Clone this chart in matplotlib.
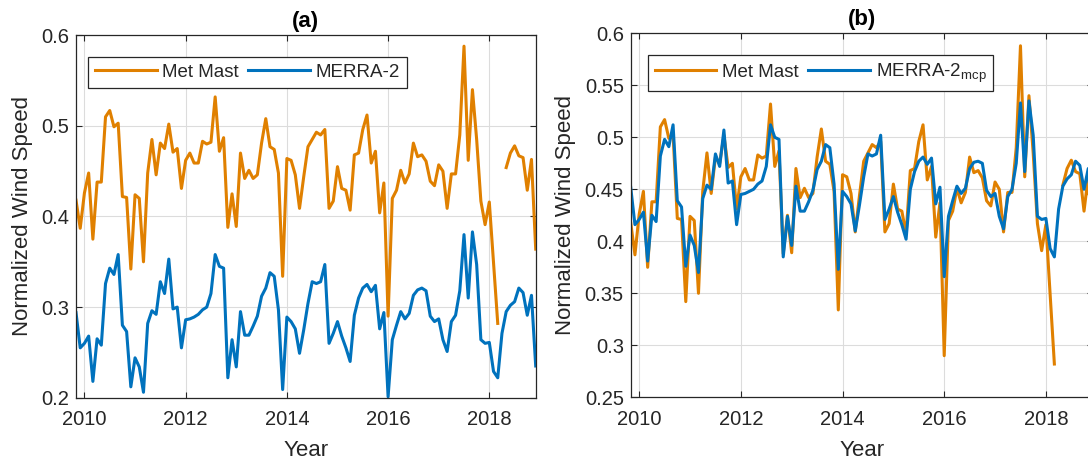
import numpy as np
import matplotlib
matplotlib.use("Agg")
import matplotlib.pyplot as plt
from matplotlib.ticker import FuncFormatter

plt.rcParams['font.family'] = ['Liberation Sans', 'DejaVu Sans']
plt.rcParams['mathtext.fontset'] = 'custom'
plt.rcParams['mathtext.rm'] = 'Liberation Sans'
plt.rcParams['mathtext.it'] = 'Liberation Sans'

# Monthly data, Nov 2009 .. Dec 2018
start_year, start_month, n_months = 2009, 11, 110

met_mast = [
    0.418, 0.387, 0.426, 0.448, 0.375, 0.438, 0.438, 0.510, 0.517, 0.499,
    0.503, 0.422, 0.421, 0.342, 0.424, 0.420, 0.350, 0.448, 0.485, 0.446,
    0.481, 0.475, 0.502, 0.471, 0.475, 0.431, 0.462, 0.470, 0.459, 0.459,
    0.483, 0.480, 0.482, 0.532, 0.472, 0.487, 0.388, 0.425, 0.389, 0.470,
    0.442, 0.451, 0.442, 0.446, 0.481, 0.508, 0.477, 0.474, 0.448, 0.334,
    0.464, 0.462, 0.446, 0.409, 0.444, 0.477, 0.485, 0.493, 0.490, 0.496,
    0.409, 0.417, 0.455, 0.431, 0.429, 0.407, 0.468, 0.470, 0.496, 0.512,
    0.459, 0.472, 0.404, 0.437, 0.290, 0.420, 0.429, 0.451, 0.437, 0.447,
    0.481, 0.466, 0.468, 0.461, 0.439, 0.434, 0.457, 0.450, 0.409, 0.447,
    0.447, 0.490, 0.588, 0.462, 0.540, 0.485, 0.417, 0.391, 0.416, 0.349,
    0.282, np.nan, 0.454, 0.470, 0.478, 0.467, 0.465, 0.429, 0.463, 0.364,
]

merra2 = [
    0.294, 0.255, 0.260, 0.268, 0.218, 0.265, 0.258, 0.326, 0.343, 0.336,
    0.358, 0.280, 0.273, 0.212, 0.244, 0.234, 0.206, 0.282, 0.296, 0.292,
    0.328, 0.315, 0.353, 0.298, 0.300, 0.255, 0.286, 0.287, 0.289, 0.292,
    0.297, 0.300, 0.315, 0.358, 0.345, 0.343, 0.222, 0.264, 0.234, 0.295,
    0.269, 0.269, 0.279, 0.290, 0.312, 0.321, 0.338, 0.334, 0.297, 0.209,
    0.289, 0.284, 0.276, 0.249, 0.275, 0.304, 0.328, 0.326, 0.328, 0.347,
    0.260, 0.271, 0.284, 0.268, 0.255, 0.240, 0.291, 0.310, 0.321, 0.325,
    0.317, 0.324, 0.276, 0.294, 0.201, 0.264, 0.280, 0.295, 0.287, 0.293,
    0.313, 0.319, 0.321, 0.318, 0.290, 0.284, 0.287, 0.264, 0.251, 0.284,
    0.291, 0.318, 0.380, 0.310, 0.383, 0.347, 0.264, 0.260, 0.261, 0.229,
    0.222, 0.271, 0.295, 0.302, 0.306, 0.321, 0.316, 0.291, 0.313, 0.235,
]

merra2_mcp = [
    0.452, 0.416, 0.421, 0.428, 0.381, 0.425, 0.419, 0.482, 0.498, 0.491,
    0.512, 0.439, 0.433, 0.376, 0.406, 0.396, 0.370, 0.441, 0.454, 0.450,
    0.484, 0.472, 0.507, 0.456, 0.458, 0.416, 0.445, 0.446, 0.448, 0.450,
    0.455, 0.458, 0.472, 0.512, 0.500, 0.498, 0.385, 0.424, 0.396, 0.453,
    0.429, 0.429, 0.438, 0.449, 0.469, 0.477, 0.493, 0.490, 0.455, 0.373,
    0.448, 0.443, 0.436, 0.410, 0.435, 0.462, 0.484, 0.482, 0.484, 0.502,
    0.421, 0.431, 0.443, 0.428, 0.416, 0.402, 0.450, 0.467, 0.477, 0.481,
    0.474, 0.480, 0.436, 0.452, 0.366, 0.424, 0.439, 0.453, 0.446, 0.451,
    0.470, 0.476, 0.477, 0.475, 0.449, 0.443, 0.446, 0.424, 0.412, 0.443,
    0.450, 0.475, 0.533, 0.467, 0.535, 0.502, 0.424, 0.421, 0.422, 0.393,
    0.385, 0.431, 0.453, 0.460, 0.464, 0.477, 0.473, 0.450, 0.470, 0.397,
]

x_ticks = [2010, 2012, 2014, 2016, 2018]
y_ticks_a = [0.2, 0.3, 0.4, 0.5, 0.6]
y_ticks_b = [0.25, 0.3, 0.35, 0.4, 0.45, 0.5, 0.55, 0.6]

months = np.arange(n_months)
t = start_year + (start_month - 1 + months) / 12.0

ORANGE = '#E08000'
BLUE = '#0072BD'
DARK = '#262626'

fig = plt.figure(figsize=(10.88, 4.63), dpi=100)
ax_a = fig.add_axes([76 / 1088, 1 - 397.7 / 463, 459.7 / 1088, 362.4 / 463])
ax_b = fig.add_axes([630.7 / 1088, 1 - 397.3 / 463, 461.8 / 1088, 364.0 / 463])

fmt = FuncFormatter(lambda v, p: '%g' % round(v, 4))

def style(ax, yticks, ylim, title):
    ax.set_xlim(t[0], t[-1])
    ax.set_ylim(*ylim)
    ax.set_xticks(x_ticks)
    ax.set_yticks(yticks)
    ax.yaxis.set_major_formatter(fmt)
    ax.grid(True, color='#dcdcdc', linewidth=0.8)
    ax.set_axisbelow(True)
    ax.tick_params(direction='in', length=4, width=0.8, colors=DARK,
                   labelsize=14.5, top=True, right=True)
    ax.tick_params(axis='x', pad=9)
    ax.tick_params(axis='y', pad=5)
    for s in ax.spines.values():
        s.set_color(DARK)
        s.set_linewidth(0.9)
    ax.set_xlabel('Year', fontsize=16, color=DARK, labelpad=8)
    ax.set_ylabel('Normalized Wind Speed', fontsize=16, color=DARK, labelpad=6)
    ax.set_title(title, fontsize=16, fontweight='bold', color='black', pad=6)

ax_a.plot(t, met_mast, color=ORANGE, lw=2.2, label='Met Mast')
ax_a.plot(t, merra2, color=BLUE, lw=2.2, label='MERRA-2')
style(ax_a, y_ticks_a, (0.2, 0.6), '(a)')

ax_b.plot(t, met_mast, color=ORANGE, lw=2.2, label='Met Mast')
ax_b.plot(t, merra2_mcp, color=BLUE, lw=2.2,
          label=r'MERRA-2$_{\mathregular{mcp}}$')
style(ax_b, y_ticks_b, (0.25, 0.6), '(b)')

for ax, (lx, ly) in [(ax_a, (88.3, 57.3)), (ax_b, (648, 55))]:
    leg = ax.legend(loc='upper left', bbox_to_anchor=(lx / 1088, 1 - ly / 463),
                    bbox_transform=fig.transFigure, ncol=2, fontsize=13.5,
                    frameon=True, fancybox=False, framealpha=1,
                    handlelength=3.3, handletextpad=0.3, columnspacing=0.5,
                    borderpad=0.35, borderaxespad=0)
    leg.get_frame().set_edgecolor(DARK)
    leg.get_frame().set_linewidth(0.9)
    for txt in leg.get_texts():
        txt.set_color(DARK)

fig.savefig('out.png', dpi=100)
